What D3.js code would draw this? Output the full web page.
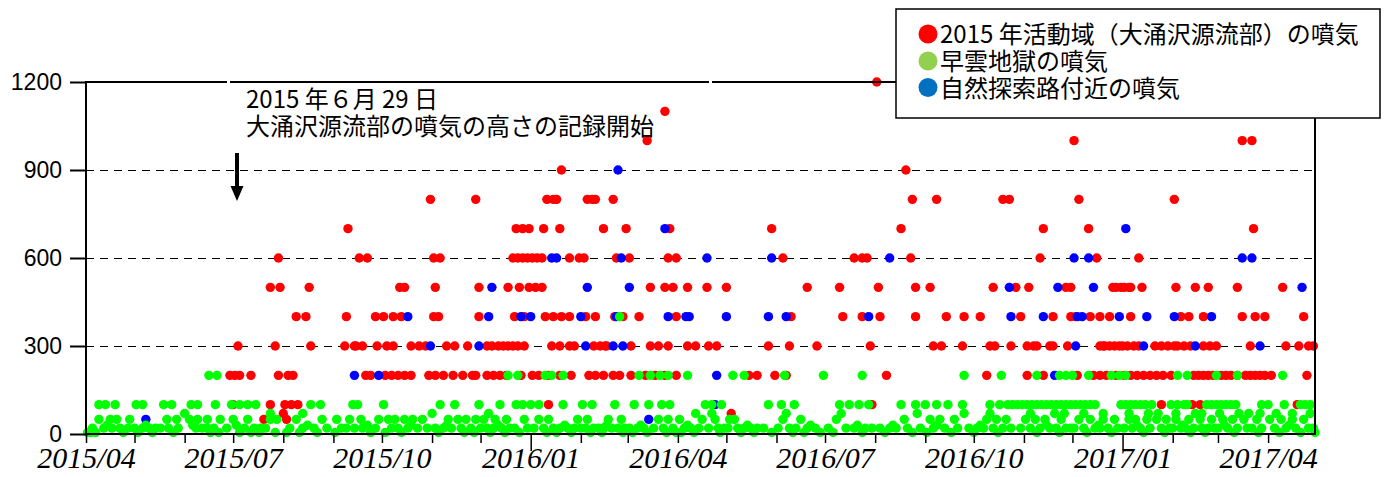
<!DOCTYPE html>
<meta charset="utf-8">
<script src="https://d3js.org/d3.v7.min.js"></script>
<style>
html, body { margin: 0; background: #fff; }
.ylab text { font: 23px "Liberation Sans", Arial, sans-serif; fill: #000; }
.xlab text { font: italic 30px "Liberation Serif", "Times New Roman", serif; fill: #000; }
.jp { font: 24px "Noto Sans CJK JP", sans-serif; fill: #000; }
</style>
<body>
<div id="chart"></div>
<script>

// y ticks and x labels
var yTicks = [0, 300, 600, 900, 1200];
var gridValues = [300, 600, 900];
var legendLabels = ["2015 年活動域（大涌沢源流部）の噴気", "早雲地獄の噴気", "自然探索路付近の噴気"];
var legendColors = ["#ff0000", "#92d050", "#0070c0"];
var noteLines = ["2015 年６月 29 日", "大涌沢源流部の噴気の高さの記録開始"];

// 2015年活動域（大涌沢源流部） [date, height m]
var redPoints = [
["2015-06-29",200],["2015-07-01",100],["2015-07-02",200],["2015-07-04",300],["2015-07-05",200],["2015-07-12",200],
["2015-07-20",50],["2015-07-24",100],["2015-07-24",500],["2015-07-27",300],["2015-07-29",600],["2015-07-29",200],
["2015-07-30",500],["2015-08-01",70],["2015-08-02",100],["2015-08-03",50],["2015-08-04",200],["2015-08-06",100],
["2015-08-07",200],["2015-08-09",400],["2015-08-10",100],["2015-08-15",400],["2015-08-17",500],["2015-08-18",300],
["2015-09-08",300],["2015-09-09",400],["2015-09-10",700],["2015-09-14",300],["2015-09-15",300],["2015-09-17",600],
["2015-09-19",300],["2015-09-21",200],["2015-09-22",600],["2015-09-24",200],["2015-09-27",400],["2015-09-28",300],
["2015-10-02",400],["2015-10-03",200],["2015-10-04",300],["2015-10-07",200],["2015-10-08",400],["2015-10-08",300],
["2015-10-11",200],["2015-10-12",500],["2015-10-13",400],["2015-10-15",500],["2015-10-15",200],["2015-10-19",300],
["2015-10-19",200],["2015-10-24",300],["2015-10-28",300],["2015-10-30",200],["2015-10-31",800],
["2015-11-02",600],["2015-11-02",400],["2015-11-03",500],["2015-11-03",200],["2015-11-05",400],["2015-11-06",600],
["2015-11-08",200],["2015-11-10",300],["2015-11-14",200],["2015-11-15",300],["2015-11-20",200],["2015-11-23",300],
["2015-11-26",200],["2015-11-28",800],["2015-11-28",200],["2015-11-30",500],["2015-11-30",400],
["2015-12-05",300],["2015-12-05",200],["2015-12-08",300],["2015-12-09",200],["2015-12-12",300],["2015-12-13",200],
["2015-12-15",300],["2015-12-17",200],["2015-12-18",500],["2015-12-18",300],["2015-12-21",600],["2015-12-21",300],
["2015-12-22",400],["2015-12-23",700],["2015-12-24",600],["2015-12-24",300],["2015-12-25",500],["2015-12-26",200],
["2015-12-27",700],["2015-12-27",600],["2015-12-28",400],["2015-12-28",300],["2015-12-30",600],["2015-12-31",700],
["2015-12-31",500],
["2016-01-02",600],["2016-01-02",200],["2016-01-04",500],["2016-01-05",600],["2016-01-06",200],["2016-01-08",600],
["2016-01-08",500],["2016-01-09",700],["2016-01-10",400],["2016-01-11",800],["2016-01-12",200],["2016-01-12",100],
["2016-01-14",300],["2016-01-15",800],["2016-01-15",400],["2016-01-17",800],["2016-01-19",700],["2016-01-19",300],
["2016-01-19",200],["2016-01-20",900],["2016-01-20",400],["2016-01-25",600],["2016-01-25",400],["2016-01-25",300],
["2016-01-26",200],["2016-01-28",300],["2016-01-31",600],
["2016-02-03",600],["2016-02-04",400],["2016-02-05",800],["2016-02-06",200],["2016-02-08",800],["2016-02-09",300],
["2016-02-10",800],["2016-02-10",400],["2016-02-10",200],["2016-02-13",300],["2016-02-15",700],["2016-02-15",200],
["2016-02-16",300],["2016-02-17",300],["2016-02-21",800],["2016-02-21",200],["2016-02-22",400],["2016-02-23",600],
["2016-02-25",200],["2016-02-27",400],["2016-02-29",700],
["2016-03-02",600],["2016-03-03",300],["2016-03-03",200],["2016-03-08",400],["2016-03-12",200],["2016-03-13",1000],
["2016-03-15",500],["2016-03-15",300],["2016-03-18",200],["2016-03-20",300],["2016-03-24",1100],["2016-03-24",500],
["2016-03-24",200],["2016-03-26",600],["2016-03-26",300],["2016-03-27",700],["2016-03-29",500],["2016-03-31",600],
["2016-03-31",400],["2016-03-31",200],
["2016-04-07",500],["2016-04-07",300],["2016-04-12",300],["2016-04-19",500],["2016-04-20",300],["2016-04-25",300],
["2016-05-01",500],["2016-05-04",70],["2016-05-15",200],["2016-05-20",200],["2016-05-27",300],["2016-05-29",700],
["2016-05-31",200],
["2016-06-05",600],["2016-06-07",200],["2016-06-09",300],["2016-06-10",400],["2016-06-20",500],["2016-06-26",300],
["2016-07-10",500],["2016-07-12",400],["2016-07-19",600],["2016-07-24",600],["2016-07-24",400],["2016-07-27",600],
["2016-07-29",300],["2016-07-30",100],
["2016-08-02",1200],["2016-08-03",500],["2016-08-04",400],["2016-08-08",200],["2016-08-17",700],["2016-08-20",900],
["2016-08-23",600],["2016-08-24",800],["2016-08-26",500],["2016-08-26",400],
["2016-09-04",500],["2016-09-06",300],["2016-09-08",800],["2016-09-11",300],["2016-09-14",400],["2016-09-24",300],
["2016-09-25",400],
["2016-10-05",400],["2016-10-09",200],["2016-10-11",300],["2016-10-13",500],["2016-10-14",300],["2016-10-19",800],
["2016-10-23",800],["2016-10-24",300],["2016-10-27",500],["2016-10-30",400],
["2016-11-03",300],["2016-11-03",200],["2016-11-04",500],["2016-11-07",300],["2016-11-09",300],["2016-11-11",600],
["2016-11-13",700],["2016-11-13",200],["2016-11-17",300],["2016-11-19",400],["2016-11-19",300],["2016-11-27",500],
["2016-11-28",300],["2016-11-30",500],["2016-11-30",400],
["2016-12-02",1000],["2016-12-03",400],["2016-12-04",200],["2016-12-05",800],["2016-12-11",700],["2016-12-12",400],
["2016-12-14",200],["2016-12-16",600],["2016-12-18",400],["2016-12-18",300],["2016-12-18",200],["2016-12-20",300],
["2016-12-21",300],["2016-12-22",200],["2016-12-24",400],["2016-12-24",300],["2016-12-26",500],["2016-12-27",300],
["2016-12-28",500],["2016-12-28",200],["2016-12-30",300],["2016-12-31",500],
["2017-01-01",300],["2017-01-02",500],["2017-01-02",200],["2017-01-04",300],["2017-01-05",500],["2017-01-06",500],
["2017-01-06",400],["2017-01-06",200],["2017-01-08",300],["2017-01-10",200],["2017-01-11",600],["2017-01-11",300],
["2017-01-13",500],["2017-01-14",200],["2017-01-18",200],["2017-01-21",300],["2017-01-22",200],["2017-01-25",100],
["2017-01-25",300],["2017-01-26",200],["2017-01-29",300],["2017-01-31",200],
["2017-02-02",800],["2017-02-02",300],["2017-02-03",500],["2017-02-04",300],["2017-02-06",400],["2017-02-08",300],
["2017-02-11",400],["2017-02-12",300],["2017-02-13",100],["2017-02-14",200],["2017-02-15",500],["2017-02-17",200],
["2017-02-18",100],["2017-02-20",400],["2017-02-20",300],["2017-02-20",200],["2017-02-23",500],["2017-02-23",200],
["2017-02-24",300],["2017-02-26",200],["2017-02-28",300],
["2017-03-03",200],["2017-03-06",200],["2017-03-09",200],["2017-03-13",500],["2017-03-13",200],["2017-03-16",1000],
["2017-03-16",400],["2017-03-18",200],["2017-03-21",300],["2017-03-21",200],["2017-03-22",1000],["2017-03-23",700],
["2017-03-24",400],["2017-03-24",200],["2017-03-27",200],["2017-03-30",400],["2017-03-30",200],
["2017-04-03",200],["2017-04-10",500],["2017-04-12",300],["2017-04-19",100],["2017-04-20",300],["2017-04-23",400],
["2017-04-25",200],["2017-04-26",300],["2017-04-29",300]
];

// 自然探索路付近
var bluePoints = [
["2015-05-08",50],["2015-09-14",200],["2015-09-29",200],["2015-10-17",400],["2015-10-31",300],["2015-11-30",300],
["2015-12-06",400],["2015-12-08",500],["2015-12-26",400],["2016-01-01",400],["2016-01-14",600],["2016-01-17",600],
["2016-02-01",400],["2016-02-04",300],["2016-02-05",500],["2016-02-21",300],["2016-02-23",400],["2016-02-24",900],
["2016-02-26",600],["2016-02-27",300],["2016-03-02",500],["2016-03-14",50],["2016-03-24",700],["2016-03-26",400],
["2016-04-06",400],["2016-04-08",400],["2016-04-19",600],["2016-04-24",100],["2016-04-25",200],["2016-05-01",400],
["2016-05-27",400],["2016-05-29",600],["2016-06-07",400],["2016-07-28",400],["2016-08-10",600],["2016-10-23",500],
["2016-10-24",400],["2016-11-13",400],["2016-11-20",200],["2016-11-22",500],["2016-12-02",600],["2016-12-03",300],
["2016-12-04",400],["2016-12-07",400],["2016-12-11",600],["2016-12-14",500],["2016-12-30",400],["2017-01-03",700],
["2017-01-14",300],["2017-01-16",400],["2017-02-02",400],["2017-02-15",300],["2017-02-25",400],["2017-03-16",600],
["2017-03-22",600],["2017-03-27",300],["2017-04-22",500]
];

// 早雲地獄 (higher readings)
var greenHigh = [
["2015-06-16",200],["2015-06-21",200],["2015-12-18",200],["2015-12-24",200],["2016-01-10",200],["2016-01-14",200],
["2016-01-21",200],["2016-02-25",400],["2016-03-08",200],["2016-03-15",200],["2016-03-21",200],["2016-03-26",200],
["2016-04-07",200],["2016-05-05",200],["2016-05-12",200],["2016-06-06",200],["2016-06-30",200],["2016-07-24",200],
["2016-09-25",200],["2016-10-18",200],["2016-11-09",200],["2016-11-23",200],["2016-11-27",200],["2016-12-01",200],
["2016-12-11",200],["2016-12-25",200],["2016-12-30",200],["2017-01-03",200],["2017-02-04",200],["2017-02-10",200],
["2017-02-28",200],["2017-03-13",200],["2017-04-10",200]
];

// 早雲地獄 readings by height level
var green100 = [
"2015-04-09","2015-04-13","2015-04-19","2015-05-02","2015-05-06","2015-05-19","2015-05-24","2015-06-05","2015-06-09",
"2015-06-20","2015-06-30","2015-07-05","2015-07-10","2015-07-15","2015-08-18","2015-08-24","2015-09-13","2015-09-16",
"2015-10-02","2015-11-06","2015-11-15","2015-11-30","2015-12-13","2015-12-23","2015-12-27","2016-01-01","2016-01-06",
"2016-01-21","2016-02-02","2016-02-08","2016-02-22","2016-03-05","2016-03-14","2016-03-22","2016-03-27","2016-04-18",
"2016-04-22","2016-04-28","2016-05-27","2016-06-04","2016-06-12","2016-07-10","2016-07-16","2016-07-22","2016-07-28",
"2016-08-17","2016-08-26","2016-09-01","2016-09-08","2016-09-15","2016-09-24","2016-10-11","2016-10-17","2016-10-22",
"2016-10-25","2016-10-28","2016-10-31","2016-11-03","2016-11-06","2016-11-09","2016-11-12","2016-11-15","2016-11-18",
"2016-11-21","2016-11-24","2016-11-27","2016-11-30","2016-12-03","2016-12-06","2016-12-09","2016-12-12","2016-12-15",
"2016-12-31","2017-01-03","2017-01-06","2017-01-09","2017-01-12","2017-01-15","2017-01-19","2017-01-31","2017-02-04",
"2017-02-08","2017-02-10","2017-02-22","2017-02-25","2017-02-28","2017-03-03","2017-03-06","2017-03-09","2017-03-12",
"2017-03-28","2017-04-01","2017-04-11","2017-04-21","2017-04-24","2017-04-27"
];
var green70 = [
"2015-06-01","2015-07-24","2015-08-13","2015-11-01","2015-12-06","2016-04-12","2016-04-22","2016-06-07","2016-07-11",
"2016-08-27","2016-09-25","2016-10-11","2016-11-05","2016-11-20","2016-11-26","2016-12-08","2016-12-20","2017-01-05",
"2017-01-17","2017-01-23","2017-02-03","2017-02-15","2017-02-19","2017-03-02","2017-03-14","2017-03-20","2017-03-27",
"2017-04-06","2017-04-16","2017-04-27"
];
var green50 = [
"2015-04-09","2015-04-16","2015-04-20","2015-04-28","2015-05-21","2015-05-27","2015-06-04","2015-06-09","2015-06-15",
"2015-06-23","2015-07-01","2015-07-10","2015-07-24","2015-07-28","2015-08-09","2015-08-25","2015-09-03","2015-09-11",
"2015-09-18","2015-09-29","2015-10-05","2015-10-09","2015-10-15","2015-10-20","2015-10-26","2015-11-11","2015-11-17",
"2015-11-22","2015-11-28","2015-12-03","2015-12-10","2015-12-17","2015-12-28","2016-01-06","2016-01-12","2016-01-30",
"2016-02-05","2016-02-18","2016-02-26","2016-03-20","2016-03-26","2016-04-02","2016-04-16","2016-04-24","2016-05-03",
"2016-05-06","2016-06-05","2016-06-16","2016-07-08","2016-08-19","2016-09-04","2016-09-10","2016-09-19","2016-10-09",
"2016-10-15","2016-10-21","2016-11-02","2016-11-08","2016-11-14","2016-11-24","2016-12-05","2016-12-12","2016-12-20",
"2016-12-27","2017-01-05","2017-01-09","2017-01-16","2017-01-22","2017-01-28","2017-02-03","2017-02-11","2017-02-18",
"2017-02-25","2017-03-04","2017-03-10","2017-03-17","2017-03-25","2017-04-02","2017-04-09","2017-04-16","2017-04-23"
];
var green30 = [
"2015-04-14","2015-05-08","2015-06-06","2015-07-03","2015-08-16","2015-09-22","2015-10-19","2015-11-10","2015-12-12",
"2016-01-22","2016-02-17","2016-03-09","2016-04-07","2016-05-14","2016-06-22","2016-07-21","2016-08-12","2016-09-08",
"2016-10-05","2016-11-15","2016-12-17","2017-01-10","2017-02-07","2017-03-05","2017-04-14"
];
var green20 = [
"2015-04-05","2015-04-12","2015-04-17","2015-04-22","2015-04-27","2015-05-01","2015-05-06","2015-05-10","2015-05-14",
"2015-05-17","2015-05-22","2015-05-28","2015-06-08","2015-06-12","2015-06-15","2015-06-19","2015-06-27","2015-07-08",
"2015-07-14","2015-07-18","2015-07-21","2015-08-05","2015-08-13","2015-08-20","2015-08-28","2015-09-06","2015-09-09",
"2015-09-14","2015-09-19","2015-09-27","2015-10-07","2015-10-11","2015-10-17","2015-10-23","2015-10-29","2015-11-03",
"2015-11-08","2015-11-13","2015-11-19","2015-11-25","2015-12-01","2015-12-05","2015-12-09","2015-12-14","2015-12-19",
"2015-12-22","2015-12-30","2016-01-03","2016-01-09","2016-01-15","2016-01-19","2016-01-24","2016-01-28","2016-02-01",
"2016-02-04","2016-02-09","2016-02-12","2016-02-15","2016-02-20","2016-02-24","2016-02-28","2016-03-02","2016-03-07",
"2016-03-11","2016-03-17","2016-03-23","2016-03-29","2016-04-05","2016-04-09","2016-04-14","2016-04-20","2016-04-26",
"2016-04-30","2016-05-02","2016-05-08","2016-05-12","2016-05-16","2016-05-20","2016-05-24","2016-06-02","2016-06-09",
"2016-06-13","2016-06-20","2016-06-25","2016-07-03","2016-07-14","2016-07-19","2016-07-26","2016-07-30","2016-08-04",
"2016-08-10","2016-08-14","2016-08-21","2016-08-29","2016-09-06","2016-09-13","2016-09-21","2016-09-28","2016-10-03",
"2016-10-07","2016-10-13","2016-10-19","2016-10-24","2016-10-30","2016-11-05","2016-11-11","2016-11-17","2016-11-21",
"2016-11-27","2016-11-30","2016-12-02","2016-12-08","2016-12-15","2016-12-18","2016-12-23","2016-12-29","2017-01-02",
"2017-01-07","2017-01-12","2017-01-18","2017-01-25","2017-01-30","2017-02-01","2017-02-06","2017-02-09","2017-02-14",
"2017-02-19","2017-02-23","2017-02-27","2017-03-01","2017-03-07","2017-03-13","2017-03-19","2017-03-22","2017-03-28",
"2017-04-05","2017-04-12","2017-04-18","2017-04-26","2017-04-29"
];
var green5 = [
"2015-04-02","2015-04-04","2015-04-07","2015-04-24","2015-05-03","2015-05-12","2015-05-25","2015-06-17","2015-06-22",
"2015-07-05","2015-07-12","2015-07-17","2015-07-27","2015-08-03","2015-08-11","2015-08-22","2015-09-02","2015-09-24",
"2015-10-03","2015-10-13","2015-11-05","2015-11-21","2015-11-27","2015-12-07","2015-12-16","2015-12-25","2016-01-11",
"2016-01-17","2016-01-26","2016-02-07","2016-02-14","2016-02-27","2016-03-04","2016-03-13","2016-03-25","2016-03-31",
"2016-04-03","2016-04-11","2016-04-27","2016-05-10","2016-05-18","2016-05-29","2016-06-11","2016-06-18","2016-06-28",
"2016-07-06","2016-07-24","2016-08-07","2016-08-24","2016-09-02","2016-09-17","2016-10-01","2016-10-16","2016-11-09",
"2016-11-23","2016-12-10","2016-12-25","2017-01-14","2017-01-27","2017-02-12","2017-02-21","2017-03-11","2017-03-26",
"2017-04-08","2017-04-21","2017-04-30"
];

var parse = d3.timeParse("%Y-%m-%d");

var greenPoints = greenHigh
  .concat(green100.map(function(d) { return [d, 100]; }))
  .concat(green70.map(function(d) { return [d, 70]; }))
  .concat(green50.map(function(d) { return [d, 50]; }))
  .concat(green30.map(function(d) { return [d, 30]; }))
  .concat(green20.map(function(d) { return [d, 20]; }))
  .concat(green5.map(function(d) { return [d, 5]; }));

var W = 1387, H = 477;
var xL = 86, xR = 1315, yT = 82, yB = 434;

var svg = d3.select("#chart").append("svg")
  .attr("width", W).attr("height", H);

var x = d3.scaleTime()
  .domain([new Date(2015, 3, 1), new Date(2017, 3, 30)])
  .range([xL, xR]);
var y = d3.scaleLinear().domain([0, 1200]).range([yB, yT]);

// dashed grid (half-pixel offset keeps the dashes sharp and black)
svg.selectAll(".grid").data(gridValues).enter().append("line")
  .attr("x1", xL).attr("x2", xR)
  .attr("y1", function(d) { return Math.round(y(d)) + 0.5; })
  .attr("y2", function(d) { return Math.round(y(d)) + 0.5; })
  .attr("stroke", "#000").attr("stroke-width", 1).attr("stroke-dasharray", "8,6");

// points: red, then blue, then green on top
function drawPoints(data, color) {
  svg.append("g").selectAll("circle").data(data).enter().append("circle")
    .attr("cx", function(d) { return x(parse(d[0])); })
    .attr("cy", function(d) { return y(d[1]); })
    .attr("r", 4.7)
    .attr("fill", color);
}
drawPoints(redPoints, "#ff0000");
drawPoints(bluePoints, "#0000ff");
drawPoints(greenPoints, "#00ff00");

// frame
svg.append("rect")
  .attr("x", xL).attr("y", yT).attr("width", xR - xL).attr("height", yB - yT)
  .attr("fill", "none").attr("stroke", "#000").attr("stroke-width", 2);
// small breaks in the top border
[[227, 3], [709, 3]].forEach(function(g) {
  svg.append("rect").attr("x", g[0]).attr("y", yT - 2).attr("width", g[1]).attr("height", 4).attr("fill", "#fff");
});

// y axis
var yAxis = svg.append("g").attr("class", "ylab")
  .attr("transform", "translate(" + xL + ",0)")
  .call(d3.axisLeft(y).tickValues(yTicks).tickFormat(d3.format("d"))
    .tickSize(16).tickPadding(8).tickSizeOuter(0));
yAxis.select(".domain").remove();
yAxis.selectAll("line").attr("stroke", "#000").attr("stroke-width", 2);

// x axis
var fmt = d3.timeFormat("%Y/%m");
var xAxis = svg.append("g").attr("class", "xlab")
  .attr("transform", "translate(0," + yB + ")")
  .call(d3.axisBottom(x).ticks(d3.timeMonth.every(1)).tickSize(9).tickPadding(4).tickSizeOuter(0)
    .tickFormat(function(d) { return d.getMonth() % 3 === 0 ? fmt(d) : ""; }));
xAxis.select(".domain").remove();
xAxis.selectAll("line")
  .attr("stroke", "#000").attr("stroke-width", 1.5)
  .attr("y2", function(d) { return d.getMonth() === 0 ? 17 : 9; });

// note and arrow
svg.selectAll(".note").data(noteLines).enter().append("text")
  .attr("class", "jp")
  .attr("x", 246)
  .attr("y", function(d, i) { return 108 + i * 27; })
  .text(function(d) { return d; });
svg.append("line").attr("x1", 237).attr("x2", 237).attr("y1", 153).attr("y2", 188)
  .attr("stroke", "#000").attr("stroke-width", 4);
svg.append("path").attr("d", "M230.5,186 L243.5,186 L237,201 Z").attr("fill", "#000");

// legend
var lg = svg.append("g");
lg.append("rect").attr("x", 896).attr("y", 9).attr("width", 484).attr("height", 109)
  .attr("fill", "#fff").attr("stroke", "#000").attr("stroke-width", 1.5);
var rowY = [34, 61, 87.5];
legendLabels.forEach(function(t, i) {
  lg.append("circle").attr("cx", 928).attr("cy", rowY[i]).attr("r", 9.5).attr("fill", legendColors[i]);
  lg.append("text").attr("class", "jp").attr("x", 940).attr("y", rowY[i] + 9).text(t);
});

</script>
